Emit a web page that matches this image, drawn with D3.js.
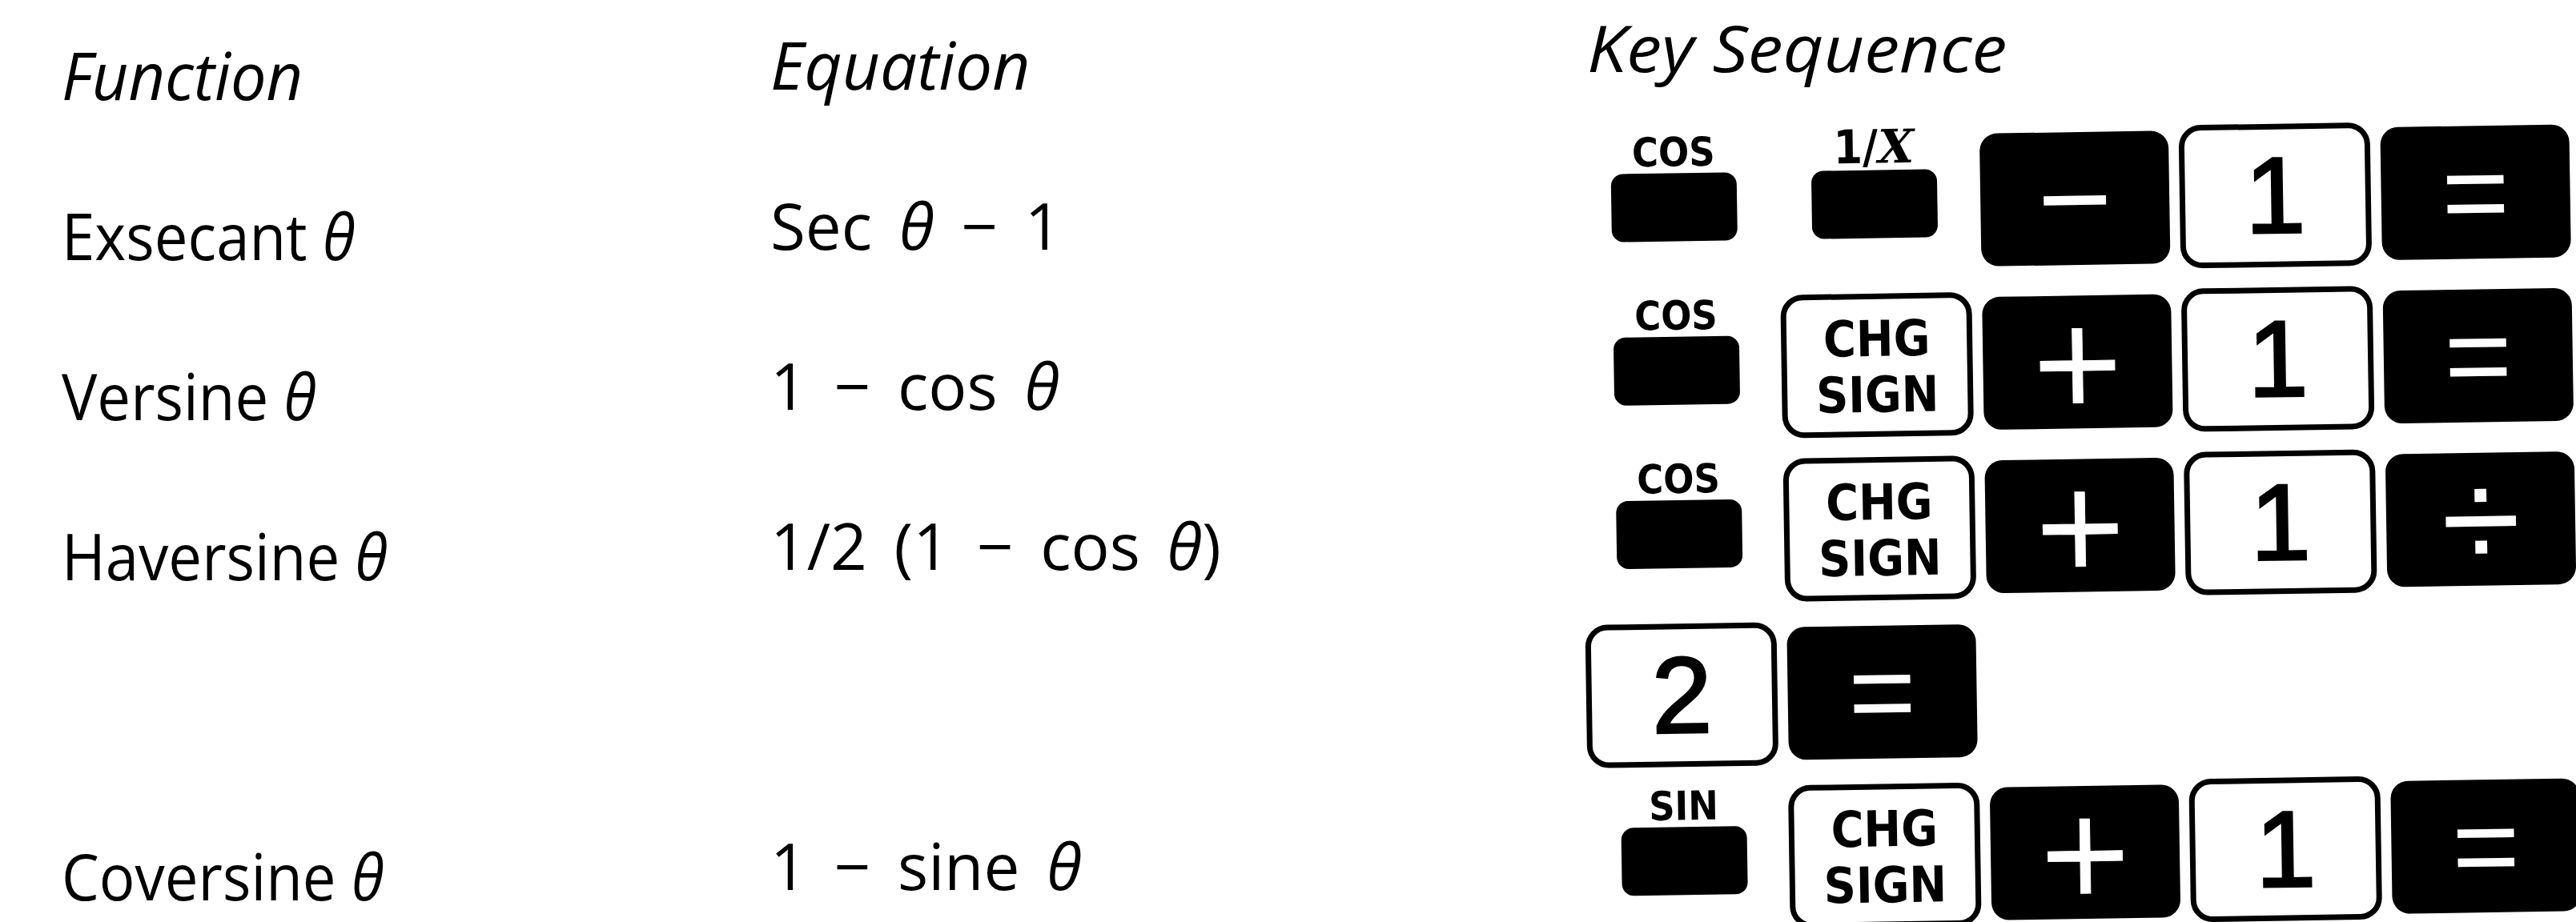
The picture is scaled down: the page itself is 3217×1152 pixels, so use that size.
<!DOCTYPE html>
<html>
<head>
<meta charset="utf-8">
<script src="https://cdn.jsdelivr.net/npm/d3@7"></script>
<style>
html, body { margin: 0; padding: 0; background: #ffffff; }
svg { display: block; }
</style>
</head>
<body>
<div id="chart"></div>
<script>
// ---- data ----
const headers = ["Function", "Equation", "Key Sequence"];
const functionNames = ["Exsecant θ", "Versine θ", "Haversine θ", "Coversine θ"];
const equations = ["Sec θ − 1", "1 − cos θ", "1/2 (1 − cos θ)", "1 − sine θ"];
const functionLines = [1, 2, 3, 5];          // table line of each function
const keyRow1 = ["COS", "1/X", "−", "1", "="];
const keyRow2 = ["COS", "CHG SIGN", "+", "1", "="];
const keyRow3 = ["COS", "CHG SIGN", "+", "1", "÷"];
const keyRow4 = ["2", "="];
const keyRow5 = ["SIN", "CHG SIGN", "+", "1", "="];
const keyRows = [keyRow1, keyRow2, keyRow3, keyRow4, keyRow5];
const functionKeys = ["COS", "SIN", "1/X"];
const lightKeys = ["1", "2", "CHG SIGN"];

// ---- layout ----
const W = 3217, H = 1152;
const textFont = "'Open Sans', 'Noto Sans', sans-serif";
const narrowFont = "'Liberation Sans Narrow', 'DejaVu Sans Condensed', 'Arial Narrow', sans-serif";
const keyFont = "'Liberation Sans', Arial, sans-serif";
const symFont = "'DejaVu Sans', 'Liberation Sans', sans-serif";

const svg = d3.select("#chart").append("svg")
  .attr("width", W).attr("height", H)
  .attr("viewBox", `0 0 ${W} ${H}`);
svg.append("rect").attr("width", W).attr("height", H).attr("fill", "#fff");

const lineY = d3.scaleLinear().domain([0, 5]).range([125, 1125]);
const colX = d3.scaleOrdinal().domain(headers).range([77, 962, 1982]);
const colDy = d3.scaleOrdinal().domain(headers).range([0, -13, -35]);
const headerSize = d3.scaleOrdinal().domain(headers).range([82, 82, 80]);
const headerScaleX = d3.scaleOrdinal().domain(headers).range([0.965, 1.0, 1.1]);
const colScaleX = d3.scaleOrdinal().domain(headers).range([0.93, 1.0, 1.0]);
const colWordSpacing = d3.scaleOrdinal().domain(headers).range([0, 13, 0]);

function thetaText(sel, str) {
  const parts = str.split("θ");
  parts.forEach((p, i) => {
    if (p.length) sel.append("tspan").text(p);
    if (i < parts.length - 1) sel.append("tspan").attr("font-style", "italic").text("θ");
  });
}

// headers
svg.append("g").selectAll("text").data(headers).join("text")
  .attr("transform", d => `translate(${colX(d)},${lineY(0) + colDy(d)}) scale(${headerScaleX(d)},1)`)
  .attr("font-family", textFont).attr("font-style", "italic")
  .attr("font-size", d => headerSize(d)).attr("fill", "#000")
  .text(d => d);

// function names
svg.append("g").selectAll("text").data(functionNames).join("text")
  .attr("transform", (d, i) => `translate(${colX(headers[0])},${lineY(functionLines[i]) + colDy(headers[0])}) scale(${colScaleX(headers[0])},1)`)
  .attr("font-family", textFont).attr("font-size", 80).attr("fill", "#000")
  .each(function (d) { thetaText(d3.select(this), d); });

// equations
svg.append("g").selectAll("text").data(equations).join("text")
  .attr("transform", (d, i) => `translate(${colX(headers[1])},${lineY(functionLines[i]) + colDy(headers[1])}) scale(${colScaleX(headers[1])},1)`)
  .attr("font-family", textFont).attr("font-size", 80).attr("fill", "#000")
  .attr("word-spacing", colWordSpacing(headers[1]))
  .each(function (d) { thetaText(d3.select(this), d); });

// ---- keys ----
const slotX = d3.scaleLinear().domain([0, 4]).range([2097, 3098]);
const rowY = d3.scaleLinear().domain([0, 4]).range([248, 1065]);
const keysG = svg.append("g").attr("transform", "rotate(-0.9 2600 650)");

const keyData = [];
keyRows.forEach((row, r) => row.forEach((label, i) => keyData.push({ r, i, label })));

const keyType = d => functionKeys.includes(d.label) ? "fn" : (lightKeys.includes(d.label) ? "light" : "dark");
const dims = {
  fn: { w: 157, h: 85, rx: 15, dy: 3 },
  light: { w: 232, h: 172, rx: 24, dy: 0 },
  dark: { w: 236, h: 166, rx: 22, dy: 0 }
};
const glyphSize = { "−": 160, "=": 145, "÷": 180, "+": 148 };
const glyphFont = { "−": keyFont, "=": keyFont, "÷": keyFont, "+": symFont };
const glyphDy = { "−": 0, "=": 0, "÷": 0, "+": 0 };

const keyG = keysG.selectAll("g.key").data(keyData).join("g")
  .attr("class", "key")
  .attr("transform", d => `translate(${slotX(d.i)},${rowY(d.r)})`);

keyG.each(function (d) {
  const g = d3.select(this);
  const t = keyType(d);
  const m = dims[t];
  g.append("rect")
    .attr("x", -m.w / 2).attr("y", -m.h / 2 + m.dy)
    .attr("width", m.w).attr("height", m.h)
    .attr("rx", m.rx).attr("ry", m.rx)
    .attr("fill", t === "light" ? "#fff" : "#000")
    .attr("stroke", t === "light" ? "#000" : "none")
    .attr("stroke-width", t === "light" ? 7 : 0);

  if (t === "fn") {
    const lab = g.append("text")
      .attr("x", 0).attr("y", m.dy - m.h / 2 - 9)
      .attr("text-anchor", "middle")
      .attr("font-family", narrowFont).attr("font-weight", "bold")
      .attr("font-size", 50).attr("fill", "#000");
    if (d.label === "1/X") {
      lab.attr("font-size", 58);
      lab.append("tspan").text("1/");
      lab.append("tspan").attr("font-family", "'DejaVu Serif', serif").attr("font-style", "italic").text("X");
    } else {
      lab.text(d.label);
    }
  } else if (t === "light") {
    if (d.label === "CHG SIGN") {
      const lines = d.label.split(" ");
      g.selectAll("text.l").data(lines).join("text")
        .attr("class", "l")
        .attr("x", 0).attr("y", (l, j) => j === 0 ? -33 : 37)
        .attr("text-anchor", "middle").attr("dominant-baseline", "central")
        .attr("font-family", narrowFont).attr("font-weight", "bold")
        .attr("font-size", 62).attr("fill", "#000")
        .text(l => l);
    } else {
      g.append("text")
        .attr("x", 0).attr("y", 0)
        .attr("text-anchor", "middle").attr("dominant-baseline", "central")
        .attr("font-family", keyFont)
        .attr("font-size", 135).attr("fill", "#000")
        .attr("stroke", "#000").attr("stroke-width", 3)
        .text(d.label);
    }
  } else {
    g.append("text")
      .attr("x", 0).attr("y", glyphDy[d.label] || 0)
      .attr("text-anchor", "middle").attr("dominant-baseline", "central")
      .attr("font-family", glyphFont[d.label] || keyFont)
      .attr("font-size", glyphSize[d.label] || 160).attr("fill", "#fff")
      .attr("stroke", d.label === "+" ? "#fff" : "none").attr("stroke-width", d.label === "+" ? 1 : 0)
      .text(d.label);
  }
});
</script>
</body>
</html>
